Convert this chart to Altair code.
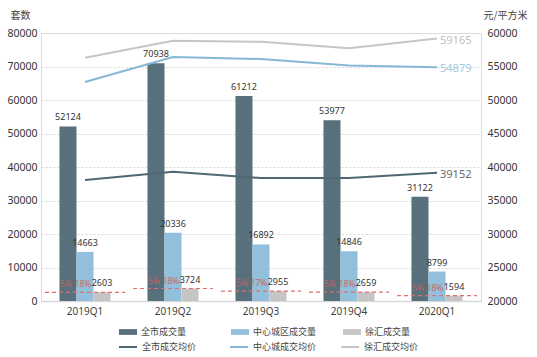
import altair as alt
import pandas as pd

quarters = ["2019Q1", "2019Q2", "2019Q3", "2019Q4", "2020Q1"]
city_vol = [52124, 70938, 61212, 53977, 31122]
central_vol = [14663, 20336, 16892, 14846, 8799]
xuhui_vol = [2603, 3724, 2955, 2659, 1594]
city_price = [38060, 39300, 38360, 38360, 39152]
central_price = [52690, 56420, 56120, 55150, 54879]
xuhui_price = [56310, 58850, 58700, 57720, 59165]
pct_city = ["5%", "5%", "5%", "5%", "5%"]
pct_central = ["18%", "18%", "17%", "18%", "18%"]

vol_names = ["全市成交量", "中心城区成交量", "徐汇成交量"]
price_names = ["全市成交均价", "中心城成交均价", "徐汇成交均价"]
bar_colors = ["#57707b", "#92bfdb", "#c6c5c5"]
line_colors = ["#4f6873", "#86b8d6", "#c6c6c6"]
end_colors = ["#6b6b6b", "#a3c9df", "#c0c0c0"]

FONT = "Noto Sans CJK SC"
NUMFONT = "Noto Sans"

vol_rows = []
for i, q in enumerate(quarters):
    for name, vals in zip(vol_names, [city_vol, central_vol, xuhui_vol]):
        vol_rows.append({"q": q, "s": name, "v": vals[i]})
vol_df = pd.DataFrame(vol_rows)

price_rows = []
for i, q in enumerate(quarters):
    for name, vals in zip(price_names, [city_price, central_price, xuhui_price]):
        price_rows.append({"q": q, "s": name, "v": vals[i]})
price_df = pd.DataFrame(price_rows)

pct_rows = []
for i, q in enumerate(quarters):
    pct_rows.append({"q": q, "s": vol_names[0], "t": pct_city[i], "v": xuhui_vol[i]})
    pct_rows.append({"q": q, "s": vol_names[1], "t": pct_central[i], "v": xuhui_vol[i]})
pct_df = pd.DataFrame(pct_rows)

rule_df = pd.DataFrame({"q": quarters, "v": xuhui_vol})

end_df = pd.DataFrame({
    "q": [quarters[-1]] * 3,
    "s": price_names,
    "v": [city_price[-1], central_price[-1], xuhui_price[-1]],
})

xs = alt.X("q:N", sort=quarters,
           scale=alt.Scale(paddingInner=0.42, paddingOuter=0.21),
           axis=alt.Axis(title=None, labelAngle=0, ticks=False, domain=True,
                         domainColor="#d9d9d9", domainWidth=1.5,
                         labelFont=NUMFONT, labelFontSize=10, labelColor="#444444",
                         labelPadding=5))
xoff = alt.XOffset("s:N", sort=vol_names,
                   scale=alt.Scale(domain=vol_names, paddingInner=0, paddingOuter=0))

yl = alt.Y("v:Q", scale=alt.Scale(domain=[0, 80000]),
           axis=alt.Axis(title="套数", titleAngle=0, titleX=-31, titleY=-18,
                         titleAlign="left", titleBaseline="middle",
                         titleFont=FONT, titleFontSize=10, titleFontWeight="normal",
                         titleColor="#444444",
                         values=list(range(0, 80001, 10000)), format="d",
                         ticks=False, domain=False,
                         grid=True, gridColor="#d6d6d6", gridDash=[2, 2],
                         labelFont=NUMFONT, labelFontSize=10.5, labelColor="#333333",
                         labelPadding=4))

bars = alt.Chart(vol_df).mark_bar().encode(
    x=xs, xOffset=xoff, y=yl,
    fill=alt.Fill("s:N", sort=vol_names,
                  scale=alt.Scale(domain=vol_names, range=bar_colors),
                  legend=alt.Legend(title=None, orient="none", legendX=78, legendY=290,
                                    direction="horizontal", columns=3, gridAlign="all",
                                    columnPadding=26, padding=0,
                                    symbolType="M-1,-0.32H1V0.32H-1Z", symbolSize=324,
                                    symbolStrokeWidth=0, labelOffset=4,
                                    labelFont=FONT, labelFontSize=9, labelColor="#444444")),
)

bar_text = alt.Chart(vol_df).mark_text(
    baseline="bottom", dy=-4, font=NUMFONT, fontSize=9, color="#333333"
).encode(x=xs, xOffset=xoff, y=yl, text=alt.Text("v:Q", format="d"))

pct_text = alt.Chart(pct_df).mark_text(
    baseline="bottom", dy=-3, dx=-2, font=NUMFONT, fontSize=8.5, color="#dc5a5a", opacity=0.9
).encode(x=xs, xOffset=xoff, y=yl, text="t:N")

rule = alt.Chart(rule_df).mark_rule(
    color="#e07070", strokeDash=[4, 3], strokeWidth=1.2, xOffset=-40, x2Offset=40
).encode(x=xs, x2="q:N", y=yl)

left = alt.layer(bars, bar_text, rule, pct_text)

yr = alt.Y("v:Q", scale=alt.Scale(domain=[20000, 60000]),
           axis=alt.Axis(orient="right", title="元/平方米", titleAngle=0, titleX=2, titleY=-18,
                         titleAlign="left", titleBaseline="middle",
                         titleFont=FONT, titleFontSize=10, titleFontWeight="normal",
                         titleColor="#444444",
                         values=list(range(20000, 60001, 5000)), format="d",
                         ticks=False, domain=False, grid=False,
                         labelFont=NUMFONT, labelFontSize=10.5, labelColor="#333333",
                         labelPadding=6))

lines = alt.Chart(price_df).mark_line(strokeWidth=2).encode(
    x=xs, y=yr,
    stroke=alt.Stroke("s:N", sort=price_names,
                      scale=alt.Scale(domain=price_names, range=line_colors),
                      legend=alt.Legend(title=None, orient="none", legendX=77, legendY=304,
                                        direction="horizontal", columns=3, gridAlign="all",
                                        columnPadding=20, padding=0,
                                        symbolType="stroke", symbolSize=324,
                                        symbolStrokeWidth=2, labelOffset=4,
                                        labelFont=FONT, labelFontSize=9, labelColor="#444444")),
)

end_text = alt.Chart(end_df).mark_text(
    align="left", baseline="middle", dx=3, dy=2, font=NUMFONT, fontSize=11
).encode(x=xs, y=yr,
         text=alt.Text("v:Q", format="d"),
         color=alt.Color("s:N", scale=alt.Scale(domain=price_names, range=end_colors), legend=None))

right = alt.layer(lines, end_text)

chart = alt.layer(left, right).resolve_scale(y="independent").properties(
    width=440, height=268,
    autosize=alt.AutoSizeParams(type="none"),
    padding={"left": 41, "top": 33, "right": 56, "bottom": 56},
).configure_view(strokeWidth=0, stroke="transparent").configure(background="white")

chart.save("out.html", embed_options={"renderer": "svg", "actions": False})
